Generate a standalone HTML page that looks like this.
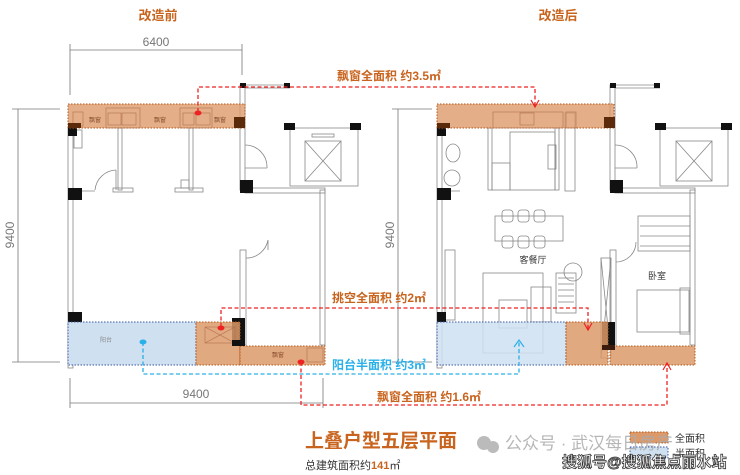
<!DOCTYPE html>
<html><head><meta charset="utf-8"><style>
html,body{margin:0;padding:0;background:#fff;width:740px;height:475px;overflow:hidden}
svg{display:block}
text{font-family:"Liberation Sans","Noto Sans CJK SC",sans-serif}
</style></head><body>
<svg width="740" height="475" viewBox="0 0 740 475" xmlns="http://www.w3.org/2000/svg">
<defs>
<marker id="ar" markerWidth="10" markerHeight="10" refX="8" refY="5" orient="auto" markerUnits="userSpaceOnUse"><path d="M1,1 L8,5 L1,9" fill="none" stroke="#e22" stroke-width="1.2"/></marker>
</defs>
<text x="158" y="20" font-size="13" font-weight="bold" fill="#c8641e" text-anchor="middle">改造前</text>
<text x="558" y="20" font-size="13" font-weight="bold" fill="#c8641e" text-anchor="middle">改造后</text>
<g stroke="#777" stroke-width="0.8" fill="none">
<line x1="70" y1="50" x2="242" y2="50"/><line x1="70" y1="44" x2="70" y2="95"/><line x1="242" y1="44" x2="242" y2="75"/>
<line x1="18" y1="109" x2="18" y2="362"/><line x1="12" y1="109" x2="60" y2="109"/><line x1="12" y1="362" x2="60" y2="362"/>
<line x1="70" y1="403" x2="323" y2="403"/><line x1="70" y1="378" x2="70" y2="408"/><line x1="323" y1="378" x2="323" y2="408"/>
<line x1="398" y1="109" x2="398" y2="362"/><line x1="392" y1="109" x2="432" y2="109"/><line x1="392" y1="362" x2="432" y2="362"/>
</g>
<text x="156" y="46" font-size="12" fill="#777" text-anchor="middle">6400</text>
<text x="196" y="398" font-size="12" fill="#777" text-anchor="middle">9400</text>
<text transform="translate(14,235) rotate(-90)" font-size="12" fill="#777" text-anchor="middle">9400</text>
<text transform="translate(394,235) rotate(-90)" font-size="12" fill="#777" text-anchor="middle">9400</text>

<g stroke="#888" stroke-width="0.8" fill="none">
<rect x="68" y="128" width="5" height="240"/>
<rect x="240" y="85" width="5" height="105"/>
<line x1="245" y1="85" x2="290" y2="85"/><line x1="245" y1="88" x2="290" y2="88"/>
<rect x="245" y="188" width="80" height="5"/>
<rect x="320" y="190" width="5" height="155"/>
<rect x="240" y="250" width="6" height="95"/>
<path d="M246,258 A22,22 0 0 0 268,240"/><line x1="268" y1="240" x2="268" y2="250"/>
<path d="M245,145 A22,22 0 0 1 267,168"/><line x1="245" y1="168" x2="267" y2="168"/>
<rect x="118" y="128" width="4" height="62"/><rect x="189" y="128" width="4" height="62"/>
<rect x="113" y="188" width="20" height="4"/><rect x="175" y="188" width="28" height="4"/>
<path d="M95,190 A22,22 0 0 1 116,170"/><line x1="116" y1="170" x2="116" y2="190"/>
<line x1="73" y1="191" x2="95" y2="191"/>
<rect x="181" y="180" width="8" height="8"/>
<rect x="290" y="128" width="68" height="58"/><rect x="305" y="141" width="36" height="40"/>
<line x1="305" y1="141" x2="341" y2="181"/><line x1="341" y1="141" x2="305" y2="181"/>
<rect x="312" y="134" width="22" height="3"/>
<rect x="74" y="130" width="8" height="18"/>
</g>
<g fill="#111">
<rect x="68" y="123" width="9" height="13"/><rect x="68" y="188" width="14" height="12"/>
<rect x="240" y="180" width="13" height="13"/><rect x="240" y="83" width="6" height="5"/><rect x="284" y="83" width="6" height="5"/>
<rect x="284" y="123" width="11" height="7"/><rect x="350" y="123" width="11" height="7"/>
<rect x="68" y="312" width="14" height="10"/><rect x="232" y="318" width="13" height="27"/>
</g>
<rect x="68" y="104" width="177" height="24" fill="#dc9a6a" fill-opacity="0.8" stroke="#b5581a" stroke-dasharray="1.5,1.5"/>
<g stroke="#b07050" stroke-width="0.6" fill="none">
<rect x="73" y="112" width="10" height="14"/><rect x="106" y="108" width="34" height="20"/><rect x="108" y="113" width="13" height="12"/><rect x="122" y="113" width="14" height="12"/>
<rect x="180" y="108" width="32" height="20"/><rect x="183" y="113" width="11" height="12"/><rect x="196" y="113" width="14" height="12"/>
</g>
<rect x="68" y="123" width="13" height="5" fill="#5a2a0a"/><rect x="234" y="117" width="11" height="11" fill="#5a2a0a"/>
<text x="95" y="122" font-size="6" fill="#8a5030" text-anchor="middle">飘窗</text>
<text x="160" y="122" font-size="6" fill="#8a5030" text-anchor="middle">飘窗</text>
<text x="220" y="122" font-size="6" fill="#8a5030" text-anchor="middle">飘窗</text>
<rect x="68" y="322" width="128" height="43" fill="#cfe0f1" stroke="#3a5aa0" stroke-dasharray="1.5,1.5"/>
<rect x="196" y="322" width="44" height="43" fill="#dc9a6a" fill-opacity="0.85" stroke="#b5581a" stroke-dasharray="1.5,1.5"/>
<rect x="240" y="346" width="85" height="19" fill="#dc9a6a" fill-opacity="0.85" stroke="#b5581a" stroke-dasharray="1.5,1.5"/>
<g stroke="#b07050" stroke-width="0.6" fill="none"><rect x="205" y="327" width="30" height="16"/><line x1="205" y1="327" x2="235" y2="343"/><line x1="235" y1="327" x2="205" y2="343"/><rect x="307" y="348" width="16" height="14"/></g>
<rect x="232" y="340" width="13" height="6" fill="#111"/>
<text x="106" y="342" font-size="6" fill="#888" text-anchor="middle">阳台</text>
<text x="278" y="357" font-size="6" fill="#8a5030" text-anchor="middle">飘窗</text>

<g stroke="#888" stroke-width="0.8" fill="none">
<rect x="437" y="128" width="5" height="240"/>
<rect x="610" y="85" width="5" height="105"/>
<line x1="615" y1="85" x2="660" y2="85"/><line x1="615" y1="88" x2="660" y2="88"/>
<rect x="615" y="188" width="80" height="5"/>
<rect x="690" y="190" width="5" height="155"/>
<rect x="610" y="250" width="6" height="95"/>
<path d="M615,145 A22,22 0 0 1 637,168"/><line x1="615" y1="168" x2="637" y2="168"/>
<rect x="660" y="128" width="68" height="58"/><rect x="676" y="141" width="36" height="40"/>
<line x1="676" y1="141" x2="712" y2="181"/><line x1="712" y1="141" x2="676" y2="181"/>
<rect x="488" y="128" width="4" height="62"/><rect x="555" y="128" width="4" height="62"/><rect x="565" y="113" width="10" height="78"/>
<rect x="492" y="163" width="18" height="27"/><rect x="510" y="132" width="45" height="58"/>
<rect x="548" y="145" width="8" height="24"/>
<ellipse cx="453" cy="153" rx="7" ry="9"/><ellipse cx="452" cy="178" rx="8" ry="8"/>
<line x1="442" y1="191" x2="460" y2="191"/>
<rect x="495" y="216" width="68" height="25"/>
<rect x="502" y="210" width="11" height="12" rx="3"/><rect x="518" y="210" width="11" height="12" rx="3"/><rect x="534" y="210" width="11" height="12" rx="3"/>
<rect x="502" y="236" width="11" height="12" rx="3"/><rect x="518" y="236" width="11" height="12" rx="3"/><rect x="534" y="236" width="11" height="12" rx="3"/>
<rect x="483" y="273" width="60" height="80"/><rect x="499" y="300" width="28" height="28"/>
<rect x="556" y="273" width="20" height="40"/><line x1="558" y1="278" x2="574" y2="278"/><line x1="558" y1="284" x2="574" y2="284"/><line x1="558" y1="290" x2="574" y2="290"/><line x1="558" y1="296" x2="574" y2="296"/><line x1="558" y1="302" x2="574" y2="302"/>
<circle cx="573" cy="272" r="9"/>
<rect x="531" y="287" width="20" height="35"/>
<rect x="601" y="258" width="10" height="100"/><line x1="601" y1="258" x2="611" y2="358"/><line x1="611" y1="258" x2="601" y2="358"/>
<rect x="638" y="216" width="52" height="35"/><line x1="640" y1="226" x2="690" y2="226"/><line x1="640" y1="236" x2="690" y2="236"/><line x1="640" y1="246" x2="690" y2="246"/>
<rect x="637" y="290" width="52" height="42"/><rect x="680" y="288" width="10" height="46"/>
<path d="M616,262 A20,20 0 0 0 636,242"/>
<rect x="445" y="250" width="10" height="70"/>
</g>
<g fill="#111">
<rect x="437" y="123" width="9" height="13"/><rect x="437" y="188" width="14" height="12"/>
<rect x="610" y="180" width="13" height="13"/><rect x="610" y="83" width="6" height="5"/><rect x="654" y="83" width="6" height="5"/>
<rect x="655" y="123" width="11" height="7"/><rect x="721" y="123" width="11" height="7"/>
<rect x="437" y="312" width="9" height="10"/><rect x="602" y="322" width="13" height="27"/>
</g>
<rect x="437" y="104" width="177" height="24" fill="#dc9a6a" fill-opacity="0.8" stroke="#b5581a" stroke-dasharray="1.5,1.5"/>
<g stroke="#b07050" stroke-width="0.6" fill="none"><rect x="493" y="112" width="70" height="16"/><rect x="520" y="113" width="14" height="12"/><rect x="566" y="112" width="10" height="16"/></g>
<rect x="437" y="123" width="13" height="5" fill="#5a2a0a"/><rect x="604" y="117" width="11" height="11" fill="#5a2a0a"/>
<rect x="437" y="322" width="129" height="43" fill="#cfe0f1" fill-opacity="0.85" stroke="#3a5aa0" stroke-dasharray="1.5,1.5"/>
<rect x="566" y="322" width="42" height="43" fill="#dc9a6a" fill-opacity="0.85" stroke="#b5581a" stroke-dasharray="1.5,1.5"/>
<rect x="610" y="346" width="85" height="19" fill="#dc9a6a" fill-opacity="0.85" stroke="#b5581a" stroke-dasharray="1.5,1.5"/>
<rect x="602" y="345" width="13" height="5" fill="#3a1a0a"/>
<text x="533" y="263" font-size="9" fill="#333" text-anchor="middle">客餐厅</text>
<text x="657" y="279" font-size="9" fill="#333" text-anchor="middle">卧室</text>

<g fill="none" stroke-width="1.3" stroke-dasharray="4,2.5">
<path d="M198,112 V87 H535 V107" stroke="#e22" marker-end="url(#ar)"/>
<path d="M221,327 V308 H588 V330" stroke="#e22" marker-end="url(#ar)"/>
<path d="M301,362 V405 H667 V363" stroke="#e22" marker-end="url(#ar)"/>
<path d="M143,342 V374 H519 V342" stroke="#2ab0e8"/>
</g>
<path d="M514,347 L519,340 L524,347" fill="none" stroke="#2ab0e8" stroke-width="1.2"/>
<ellipse cx="198" cy="113" rx="3.5" ry="2.5" fill="#e22"/><ellipse cx="221" cy="328" rx="3.5" ry="2.5" fill="#e22"/><ellipse cx="301" cy="362" rx="3.5" ry="2.5" fill="#e22"/><ellipse cx="143" cy="342" rx="3.5" ry="2.5" fill="#2ab0e8"/>
<text x="337" y="80" font-size="12" font-weight="bold" fill="#c8641e">飘窗全面积 约3.5㎡</text>
<text x="332" y="302" font-size="12" font-weight="bold" fill="#c8641e">挑空全面积 约2㎡</text>
<text x="332" y="369" font-size="12" font-weight="bold" fill="#2ab0e8">阳台半面积 约3㎡</text>
<text x="377" y="401" font-size="12" font-weight="bold" fill="#c8641e">飘窗全面积 约1.6㎡</text>

<text x="305" y="447" font-size="19" font-weight="bold" fill="#c8641e">上叠户型五层平面</text>
<text x="305" y="469" font-size="11" fill="#333">总建筑面积约<tspan fill="#c8641e" font-weight="bold">141</tspan>㎡</text>
<rect x="630" y="432" width="38" height="11" fill="#dc9a6a" stroke="#b5581a" stroke-dasharray="1.5,1.5"/>
<rect x="630" y="447" width="38" height="11" fill="#cfe0f1" stroke="#3a5aa0" stroke-dasharray="1.5,1.5"/>
<text x="675" y="442" font-size="10" fill="#333">全面积</text>
<text x="675" y="457" font-size="10" fill="#333">半面积</text>
<circle cx="484" cy="443" r="7" fill="#bbb"/><circle cx="493" cy="447" r="6" fill="#bbb"/>
<text x="505" y="449" font-size="17" fill="#aaa" fill-opacity="0.85">公众号 · 武汉每日房产</text>
<text x="562" y="467" font-size="15" font-weight="bold" fill="#fff" stroke="#333" stroke-width="0.8">搜狐号@搜狐焦点丽水站</text>
</svg>
</body></html>
